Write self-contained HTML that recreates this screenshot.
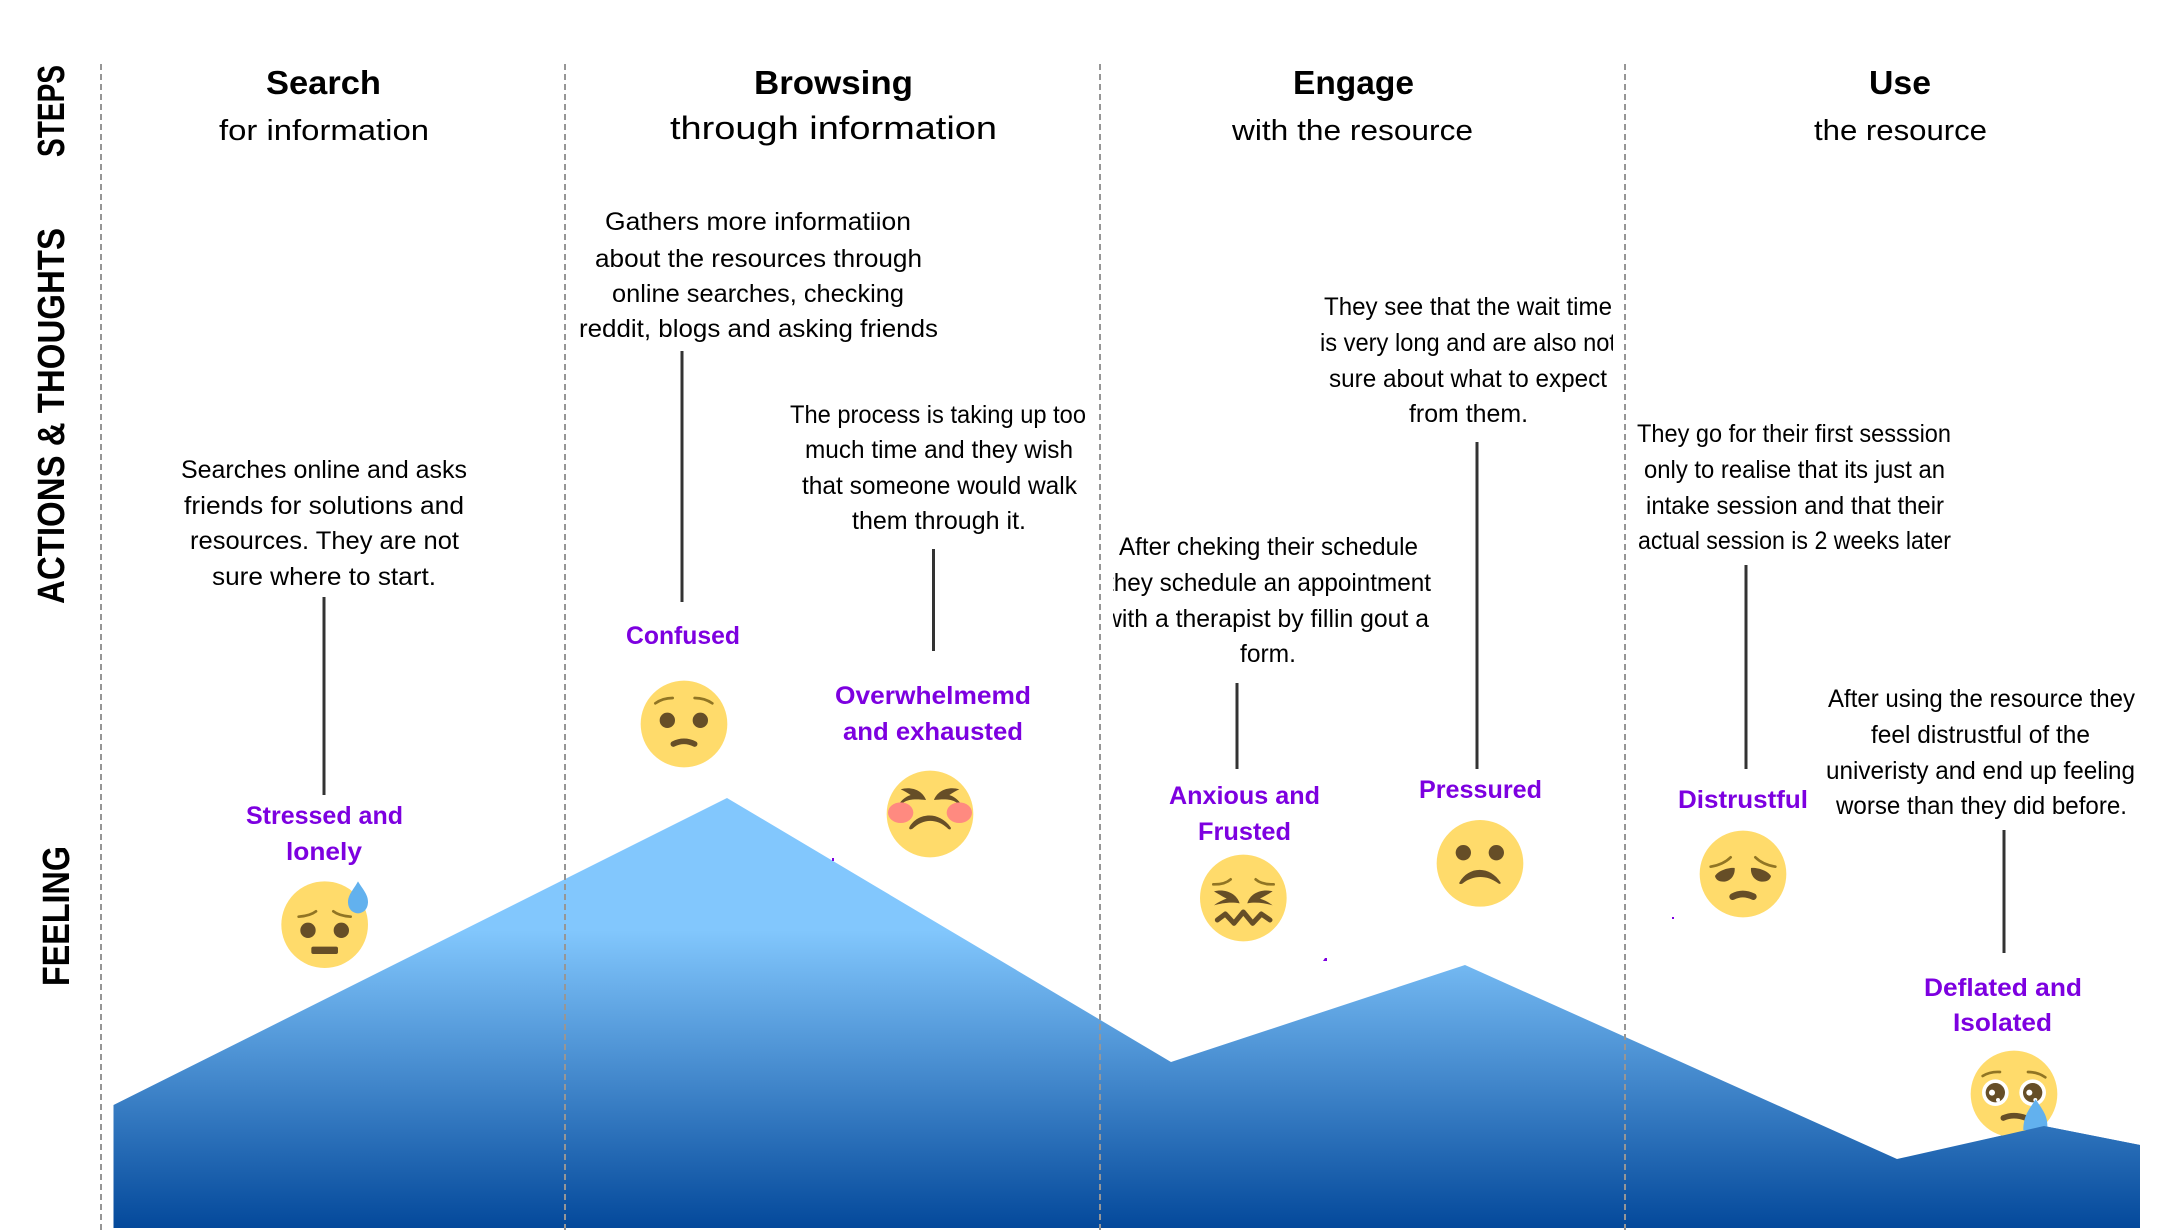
<!DOCTYPE html>
<html><head><meta charset="utf-8"><style>
html,body{margin:0;padding:0;background:#fff}
svg{display:block}
text{font-family:"Liberation Sans",sans-serif;fill:#000}
.h{font-size:33px;font-weight:700}
.s{font-size:29px}
.b{font-size:25px}
.l{font-size:25px;font-weight:700;fill:#7d00e0}
.v{font-size:38px;font-weight:700}
.d{stroke:#969696;stroke-width:2;stroke-dasharray:6 4}
.c{stroke:#333;stroke-width:3}
.f{fill:#FFDB6B}.e{fill:#664E27}.r{fill:none;stroke:#917524;stroke-width:8;stroke-linecap:round}
.m{fill:none;stroke:#664E27;stroke-linecap:round}
</style></head><body>
<svg width="2170" height="1230" viewBox="0 0 2170 1230" xmlns="http://www.w3.org/2000/svg">
<defs>
<linearGradient id="g" gradientUnits="userSpaceOnUse" x1="0" y1="930" x2="0" y2="1228">
<stop offset="0" stop-color="#82c7fd"/><stop offset="1" stop-color="#04499b"/>
</linearGradient>
<clipPath id="cl"><rect x="1113" y="560" width="400" height="80"/></clipPath>
<clipPath id="cr"><rect x="1300" y="325" width="313" height="40"/></clipPath>
</defs>
<rect width="2170" height="1230" fill="#fff"/>

<polygon points="113.5,1105 727,798 1171,1062 1465,965 1897,1159 2044,1126 2140,1145 2140,1228 113.5,1228" fill="url(#g)"/>

<line class="d" x1="101" y1="64" x2="101" y2="1230"/>
<line class="d" x1="565" y1="64" x2="565" y2="1230"/>
<line class="d" x1="1100" y1="64" x2="1100" y2="1230"/>
<line class="d" x1="1625" y1="64" x2="1625" y2="1230"/>

<g transform="translate(64,157) rotate(-90)"><text class="v" textLength="92" lengthAdjust="spacingAndGlyphs">STEPS</text></g>
<g transform="translate(64,604) rotate(-90)"><text class="v" textLength="376" lengthAdjust="spacingAndGlyphs">ACTIONS &amp; THOUGHTS</text></g>
<g transform="translate(69,986) rotate(-90)"><text class="v" textLength="140" lengthAdjust="spacingAndGlyphs">FEELING</text></g>

<text class="h" x="266" y="94" textLength="115" lengthAdjust="spacingAndGlyphs">Search</text>
<text class="s" x="219" y="140" textLength="210" lengthAdjust="spacingAndGlyphs">for information</text>
<text class="h" x="754" y="94" textLength="159" lengthAdjust="spacingAndGlyphs">Browsing</text>
<text class="s" style="font-size:32px" x="670" y="139" textLength="327" lengthAdjust="spacingAndGlyphs">through information</text>
<text class="h" x="1293" y="94" textLength="121" lengthAdjust="spacingAndGlyphs">Engage</text>
<text class="s" x="1232" y="140" textLength="241" lengthAdjust="spacingAndGlyphs">with the resource</text>
<text class="h" x="1869" y="94" textLength="62" lengthAdjust="spacingAndGlyphs">Use</text>
<text class="s" x="1814" y="140" textLength="173" lengthAdjust="spacingAndGlyphs">the resource</text>

<text class="b" x="181" y="478" textLength="286" lengthAdjust="spacingAndGlyphs">Searches online and asks</text>
<text class="b" x="184" y="514" textLength="280" lengthAdjust="spacingAndGlyphs">friends for solutions and</text>
<text class="b" x="190" y="549" textLength="269" lengthAdjust="spacingAndGlyphs">resources. They are not</text>
<text class="b" x="212" y="585" textLength="224" lengthAdjust="spacingAndGlyphs">sure where to start.</text>

<text class="b" x="605" y="230" textLength="306" lengthAdjust="spacingAndGlyphs">Gathers more informatiion</text>
<text class="b" x="595" y="267" textLength="327" lengthAdjust="spacingAndGlyphs">about the resources through</text>
<text class="b" x="612" y="302" textLength="292" lengthAdjust="spacingAndGlyphs">online searches, checking</text>
<text class="b" x="579" y="337" textLength="359" lengthAdjust="spacingAndGlyphs">reddit, blogs and asking friends</text>

<text class="b" x="790" y="423" textLength="296" lengthAdjust="spacingAndGlyphs">The process is taking up too</text>
<text class="b" x="805" y="458" textLength="268" lengthAdjust="spacingAndGlyphs">much time and they wish</text>
<text class="b" x="802" y="494" textLength="275" lengthAdjust="spacingAndGlyphs">that someone would walk</text>
<text class="b" x="852" y="529" textLength="174" lengthAdjust="spacingAndGlyphs">them through it.</text>

<text class="b" x="1119" y="555" textLength="299" lengthAdjust="spacingAndGlyphs">After cheking their schedule</text>
<g clip-path="url(#cl)">
<text class="b" x="1107" y="591" textLength="324" lengthAdjust="spacingAndGlyphs">they schedule an appointment</text>
<text class="b" x="1104" y="627" textLength="325" lengthAdjust="spacingAndGlyphs">with a therapist by fillin gout a</text>
</g>
<text class="b" x="1240" y="662" textLength="56" lengthAdjust="spacingAndGlyphs">form.</text>

<text class="b" x="1324" y="315" textLength="288" lengthAdjust="spacingAndGlyphs">They see that the wait time</text>
<g clip-path="url(#cr)"><text class="b" x="1320" y="351" textLength="296" lengthAdjust="spacingAndGlyphs">is very long and are also not</text></g>
<text class="b" x="1329" y="387" textLength="278" lengthAdjust="spacingAndGlyphs">sure about what to expect</text>
<text class="b" x="1409" y="422" textLength="119" lengthAdjust="spacingAndGlyphs">from them.</text>

<text class="b" x="1637" y="442" textLength="314" lengthAdjust="spacingAndGlyphs">They go for their first sesssion</text>
<text class="b" x="1644" y="478" textLength="301" lengthAdjust="spacingAndGlyphs">only to realise that its just an</text>
<text class="b" x="1646" y="514" textLength="298" lengthAdjust="spacingAndGlyphs">intake session and that their</text>
<text class="b" x="1638" y="549" textLength="313" lengthAdjust="spacingAndGlyphs">actual session is 2 weeks later</text>

<text class="b" x="1828" y="707" textLength="307" lengthAdjust="spacingAndGlyphs">After using the resource they</text>
<text class="b" x="1871" y="743" textLength="219" lengthAdjust="spacingAndGlyphs">feel distrustful of the</text>
<text class="b" x="1826" y="779" textLength="309" lengthAdjust="spacingAndGlyphs">univeristy and end up feeling</text>
<text class="b" x="1836" y="814" textLength="291" lengthAdjust="spacingAndGlyphs">worse than they did before.</text>

<line class="c" x1="324" y1="597" x2="324" y2="795"/>
<line class="c" x1="682" y1="351" x2="682" y2="602"/>
<line class="c" x1="933.5" y1="549" x2="933.5" y2="651"/>
<line class="c" x1="1237" y1="683" x2="1237" y2="769"/>
<line class="c" x1="1477" y1="442" x2="1477" y2="769"/>
<line class="c" x1="1746" y1="565" x2="1746" y2="769"/>
<line class="c" x1="2004" y1="830" x2="2004" y2="953"/>

<text class="l" x="246" y="824" textLength="157" lengthAdjust="spacingAndGlyphs">Stressed and</text>
<text class="l" x="286" y="860" textLength="76" lengthAdjust="spacingAndGlyphs">lonely</text>
<text class="l" x="626" y="644" textLength="114" lengthAdjust="spacingAndGlyphs">Confused</text>
<text class="l" x="835" y="704" textLength="196" lengthAdjust="spacingAndGlyphs">Overwhelmemd</text>
<text class="l" x="843" y="740" textLength="180" lengthAdjust="spacingAndGlyphs">and exhausted</text>
<text class="l" x="1169" y="804" textLength="151" lengthAdjust="spacingAndGlyphs">Anxious and</text>
<text class="l" x="1198" y="840" textLength="93" lengthAdjust="spacingAndGlyphs">Frusted</text>
<text class="l" x="1419" y="798" textLength="123" lengthAdjust="spacingAndGlyphs">Pressured</text>
<text class="l" x="1678" y="808" textLength="130" lengthAdjust="spacingAndGlyphs">Distrustful</text>
<text class="l" x="1924" y="996" textLength="158" lengthAdjust="spacingAndGlyphs">Deflated and</text>
<text class="l" x="1953" y="1031" textLength="99" lengthAdjust="spacingAndGlyphs">Isolated</text>

<!-- Stressed -->
<g transform="translate(250,860) scale(.3333)">
<circle class="f" cx="224" cy="194" r="130"/>
<path class="r" d="M146 170Q180 168 198 154M250 154Q268 168 302 170"/>
<circle class="e" cx="174" cy="211" r="23"/><circle class="e" cx="274" cy="211" r="23"/>
<rect class="e" x="184" y="260" width="80" height="22" rx="6"/>
<path fill="#62b1ee" d="M324 64C340 90 355 105 354 128C353 148 340 160 324 160C308 160 295 148 294 128C293 105 310 90 324 64Z"/>
</g>
<!-- Confused -->
<g transform="translate(620,670) scale(.3333)">
<circle class="f" cx="192" cy="162" r="130"/>
<path class="r" d="M106 100Q128 84 158 84M224 84Q254 84 277 100"/>
<circle class="e" cx="142" cy="151" r="23"/><circle class="e" cx="241" cy="151" r="23"/>
<path class="m" stroke-width="17" d="M160 222Q192 206 224 222"/>
</g>
<!-- Exhausted -->
<g transform="translate(870,760) scale(.3333)">
<circle class="f" cx="180" cy="162" r="130"/>
<path class="e" d="M92 88C125 78 158 92 168 120C145 118 118 115 100 128L90 128C100 115 112 108 122 105C112 98 102 92 92 88ZM268 88C235 78 202 92 192 120C215 118 242 115 260 128L270 128C260 115 248 108 238 105C248 98 258 92 268 88Z"/>
<ellipse cx="92" cy="158" rx="38" ry="31" fill="#FF8A80"/>
<ellipse cx="268" cy="158" rx="38" ry="31" fill="#FF8A80"/>
<path class="e" d="M118 202C140 160 205 150 242 202C245 210 236 210 232 204C200 175 160 175 128 206C122 210 116 208 118 202Z"/>
</g>
<!-- Anxious -->
<g transform="translate(1190,850) scale(.3333)">
<circle class="f" cx="160" cy="144" r="130"/>
<path class="r" d="M70 103Q104 104 122 88M197 88Q215 104 251 103"/>
<path class="e" d="M72 124C105 115 140 130 149 160C120 155 95 160 72 166C85 156 98 150 110 146C95 138 82 130 72 124ZM248 124C215 115 180 130 172 160C200 155 225 160 248 166C235 156 222 150 210 146C225 138 238 130 248 124Z"/>
<path class="m" stroke-width="15" stroke-linejoin="round" d="M82 210L106 192L132 220L160 186L188 220L214 192L240 210"/>
</g>
<!-- Pressured -->
<g transform="translate(1430,820) scale(.3333)">
<circle class="f" cx="150" cy="130" r="130"/>
<circle class="e" cx="100" cy="98" r="23"/><circle class="e" cx="199" cy="98" r="23"/>
<path class="e" d="M88 188C115 138 180 136 212 188C212 194 206 192 202 188C170 165 130 165 98 190C92 194 86 192 88 188Z"/>
</g>
<!-- Distrustful -->
<g transform="translate(1690,830) scale(.3333)">
<circle class="f" cx="159" cy="132" r="130"/>
<path class="r" d="M62 110Q100 104 122 82M196 82Q218 104 256 110"/>
<path class="e" d="M75 138C85 122 115 112 134 114C136 135 122 155 100 155C85 155 77 148 75 138ZM243 138C233 122 203 112 183 114C181 135 195 155 218 155C233 155 241 148 243 138Z"/>
<path class="m" stroke-width="20" d="M128 200Q158 184 190 200"/>
</g>
<!-- Crying -->
<g transform="translate(1970,1050) scale(.3333)">
<circle class="f" cx="132" cy="132" r="130"/>
<path class="r" d="M38 78Q60 64 90 66M174 66Q204 66 226 82"/>
<circle cx="76" cy="128" r="40" fill="#fff"/><circle cx="188" cy="128" r="40" fill="#fff"/>
<circle class="e" cx="76" cy="128" r="29"/><circle class="e" cx="188" cy="128" r="29"/>
<circle cx="66" cy="128" r="9" fill="#fff"/><circle cx="178" cy="128" r="9" fill="#fff"/>
<circle cx="84" cy="150" r="6" fill="#fff"/><circle cx="196" cy="150" r="6" fill="#fff"/>
<path class="m" stroke-width="17" d="M100 204Q130 190 168 204"/>
<path fill="#62b1ee" d="M197 148C215 175 232 195 232 225L232 240L160 240C160 195 180 175 197 148Z"/>
</g>
<polygon points="2044,1126 1970,1143 1970,1228 2140,1228 2140,1145" fill="url(#g)"/>

<polygon points="1325,958 1327,958 1327,961 1323,961" fill="#7d00e0"/>
<rect x="1672" y="917" width="2" height="2" fill="#7d00e0"/>
<rect x="832" y="858" width="2" height="3" fill="#7d00e0"/>
</svg>
</body></html>
